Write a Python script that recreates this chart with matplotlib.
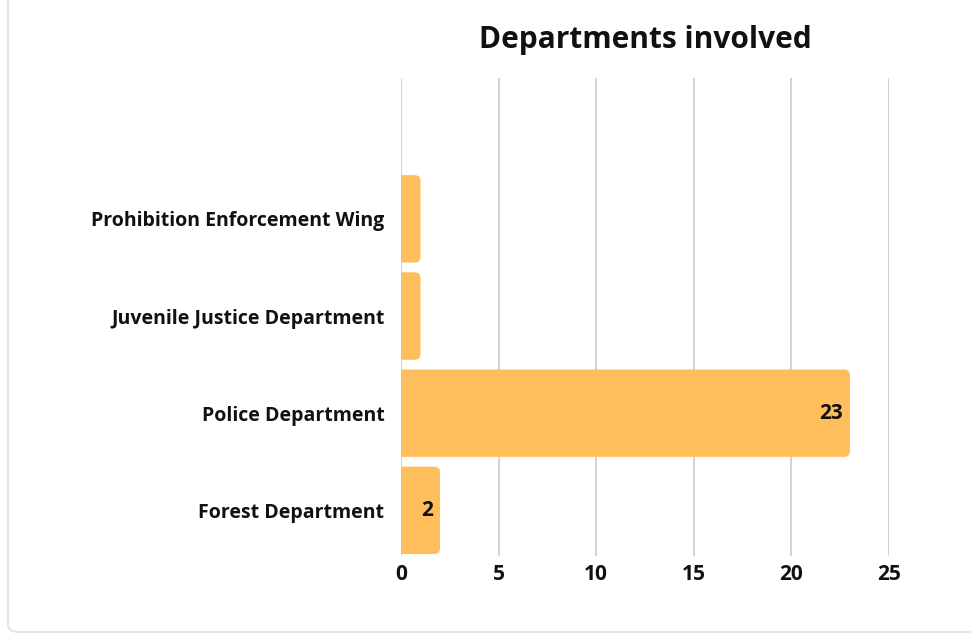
import matplotlib
matplotlib.use('Agg')
import matplotlib.pyplot as plt
from matplotlib.patches import FancyBboxPatch, PathPatch
from matplotlib.path import Path

# data (bottom to top)
departments = ["Forest Department", "Police Department",
               "Juvenile Justice Department", "Prohibition Enforcement Wing"]
counts = [2, 23, 1, 1]
shown_labels = {2, 23}
x_ticks = [0, 5, 10, 15, 20, 25]

bar_color = '#FFBE5C'
plt.rcParams['font.family'] = ['Open Sans', 'DejaVu Sans']

fig = plt.figure(figsize=(9.71, 6.35), dpi=100)

# card background
card = FancyBboxPatch((8 / 971, 3 / 635), 1.2, 1.2,
                      boxstyle="round,pad=0,rounding_size=0.012",
                      transform=fig.transFigure, facecolor='white',
                      edgecolor='#e4e4e4', linewidth=1.5, zorder=-5)
fig.patches.append(card)

ax = fig.add_axes([401 / 971, 1 - 556 / 635, 488 / 971, 478 / 635])
ax.set_facecolor('none')

ypos = list(range(len(departments)))
bars = ax.barh(ypos, counts, height=0.9, color=bar_color, alpha=0)

ax.set_xlim(0, 25)
ax.set_ylim(-0.47, 4.45)

# redraw each bar with only the right end rounded
rx, ry = 0.3, 0.06
for b in bars:
    x, y, w, h = b.get_x(), b.get_y(), b.get_width(), b.get_height()
    verts = [(x, y), (x + w - rx, y), (x + w, y), (x + w, y + ry),
             (x + w, y + h - ry), (x + w, y + h), (x + w - rx, y + h),
             (x, y + h), (x, y)]
    codes = [Path.MOVETO, Path.LINETO, Path.CURVE3, Path.CURVE3,
             Path.LINETO, Path.CURVE3, Path.CURVE3, Path.LINETO,
             Path.CLOSEPOLY]
    ax.add_patch(PathPatch(Path(verts, codes), facecolor=bar_color,
                           edgecolor='none', zorder=3))

for v, y in zip(counts, ypos):
    if v in shown_labels:
        ax.text(v - 0.35, y, str(v), ha='right', va='center',
                fontsize=15, fontweight='bold', color='#111111', zorder=4)

ax.set_xticks(x_ticks)
ax.set_xticklabels([str(t) for t in x_ticks], fontsize=15, fontweight='bold')
ax.set_yticks(ypos)
ax.set_yticklabels(departments, fontsize=14, fontweight='bold')
ax.tick_params(axis='both', length=0, colors='#111111')
ax.tick_params(axis='x', pad=6)
ax.tick_params(axis='y', pad=12)
ax.grid(axis='x', color='#cccccc', linewidth=1.2, zorder=0)
ax.set_axisbelow(True)
for s in ax.spines.values():
    s.set_visible(False)

fig.text(645 / 971, 1 - 40 / 635, "Departments involved", ha='center',
         va='center', fontsize=21.5, fontweight='bold', color='#111111')

fig.savefig('out.png', dpi=100)
